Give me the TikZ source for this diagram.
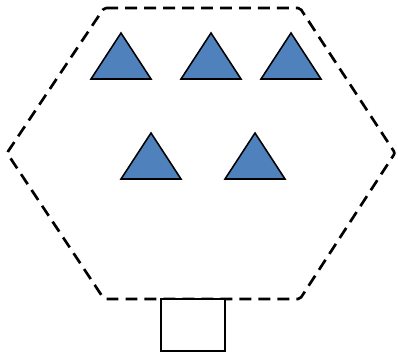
\documentclass[tikz,border=0pt]{standalone}
\usetikzlibrary{positioning}
\definecolor{TriBlue}{RGB}{79,129,189}
\tikzset{
  hexline/.style={draw=black,line width=1.9pt,dash pattern=on 8.5pt off 5pt,rounded corners=1.5pt},
  tri/.style={draw=black,fill=TriBlue,line width=1.1pt,line join=miter},
  slot/.style={draw=black,line width=1.1pt,fill=white}
}

\begin{document}
\begin{tikzpicture}[x=0.025cm,y=-0.025cm]
  \useasboundingbox (0,0) rectangle (398,356);
  % dashed hexagon
  \draw[hexline] (104,8) -- (300,8) -- (395,153) -- (300,299) -- (104,299) -- (7,153) -- cycle;
  % triangles: apex x, apex y
  \foreach \ax/\ay in {121/33, 211/33, 291/33, 151/133, 255/133}
    \draw[tri] (\ax,\ay) -- (\ax+30,\ay+46) -- (\ax-30,\ay+46) -- cycle;
  % box under the hexagon
  \draw[slot] (161,299) rectangle (225,351);
\end{tikzpicture}
\end{document}
